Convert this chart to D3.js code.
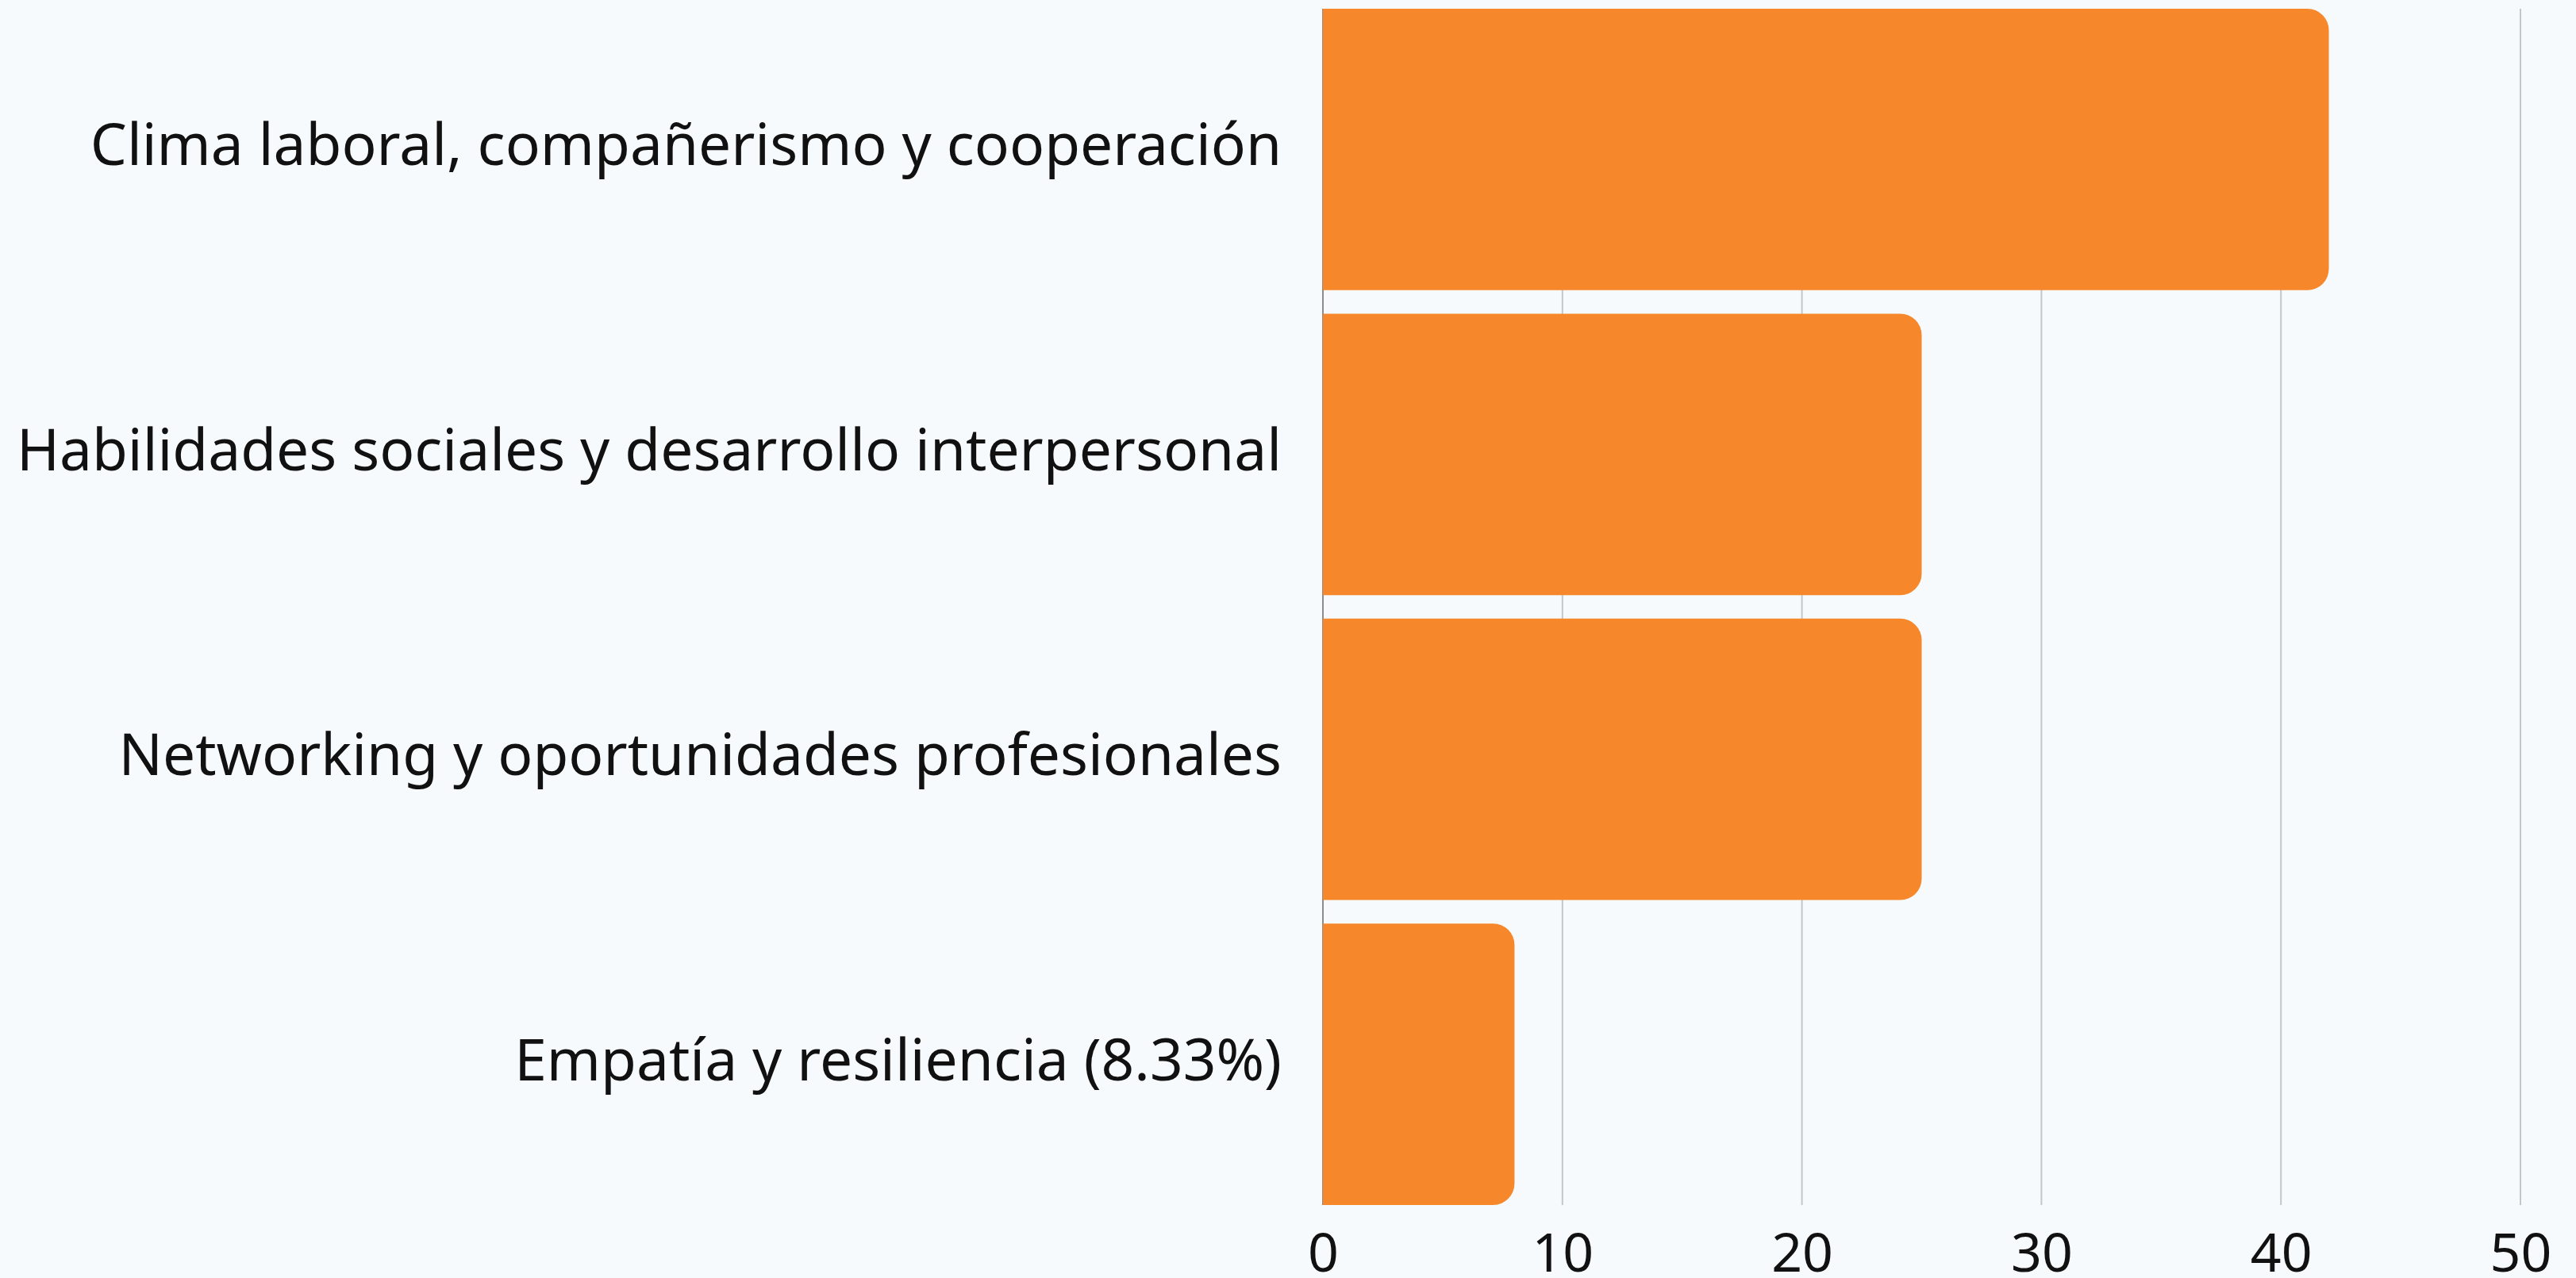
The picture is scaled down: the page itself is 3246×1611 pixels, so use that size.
<!DOCTYPE html>
<html lang="es">
<head>
  <meta charset="UTF-8">
  <title>Beneficios</title>
  <style>
  body {
    margin: 0;
    background: #f6fafd;
  }
  .label {
    font-family: "Noto Sans", sans-serif;
    font-size: 73px;
    fill: #111;
  }
  .tick text {
    font-family: "Noto Sans", sans-serif;
    font-size: 68px;
    fill: #111;
  }
  </style>
</head>
<body>
  <svg width="3246" height="1611"></svg>
  <script src="https://cdnjs.cloudflare.com/ajax/libs/d3/7.8.5/d3.min.js"></script>
  <script>
  var categories = [
    "Clima laboral, compañerismo y cooperación",
    "Habilidades sociales y desarrollo interpersonal",
    "Networking y oportunidades profesionales",
    "Empatía y resiliencia (8.33%)"
  ];
  var values = [42, 25, 25, 8];
  var xTicks = [0, 10, 20, 30, 40, 50];

  var svg = d3.select("svg"),
      width = +svg.attr("width"),
      height = +svg.attr("height"),
      margin = {top: 11, right: 70, bottom: 92, left: 1667};

  svg.append("rect").attr("width", width).attr("height", height).attr("fill", "#f6fafd");

  var x = d3.scaleLinear()
      .domain([0, 50])
      .range([margin.left, width - margin.right]);
  var y = d3.scaleBand()
      .domain(categories)
      .range([margin.top, height - margin.bottom])
      .paddingInner(0.077)
      .paddingOuter(0);

  // gridlines behind the bars
  svg.append("g")
    .selectAll("line")
    .data(xTicks.slice(1))
    .enter().append("line")
      .attr("x1", function(d) { return x(d); })
      .attr("x2", function(d) { return x(d); })
      .attr("y1", margin.top)
      .attr("y2", height - margin.bottom)
      .attr("stroke", "#c3c7cb")
      .attr("stroke-width", 2);

  svg.append("line")
    .attr("x1", x(0)).attr("x2", x(0))
    .attr("y1", margin.top).attr("y2", height - margin.bottom)
    .attr("stroke", "#8c8c8c")
    .attr("stroke-width", 2);

  var r = 27;
  function barPath(d, i) {
    var x0 = x(0), x1 = x(d), y0 = y(categories[i]), h = y.bandwidth();
    var rr = Math.min(r, (x1 - x0) / 2);
    return "M" + x0 + "," + y0 +
      "H" + (x1 - rr) +
      "A" + rr + "," + rr + " 0 0 1 " + x1 + "," + (y0 + rr) +
      "V" + (y0 + h - rr) +
      "A" + rr + "," + rr + " 0 0 1 " + (x1 - rr) + "," + (y0 + h) +
      "H" + x0 + "Z";
  }

  svg.append("g")
    .selectAll("path")
    .data(values)
    .enter().append("path")
      .attr("d", barPath)
      .attr("fill", "#f6872b");

  svg.append("g")
    .selectAll("text")
    .data(categories)
    .enter().append("text")
      .attr("class", "label")
      .attr("x", margin.left - 52)
      .attr("y", function(d) { return y(d) + y.bandwidth() / 2 + 20; })
      .attr("text-anchor", "end")
      .text(function(d) { return d; });

  var xAxis = svg.append("g")
      .attr("transform", "translate(0," + (height - margin.bottom) + ")")
      .call(d3.axisBottom(x).tickValues(xTicks).tickSize(0).tickPadding(84).tickFormat(d3.format("d")));
  xAxis.select(".domain").remove();
  xAxis.selectAll("text").attr("dy", 0);
  </script>
</body>
</html>
